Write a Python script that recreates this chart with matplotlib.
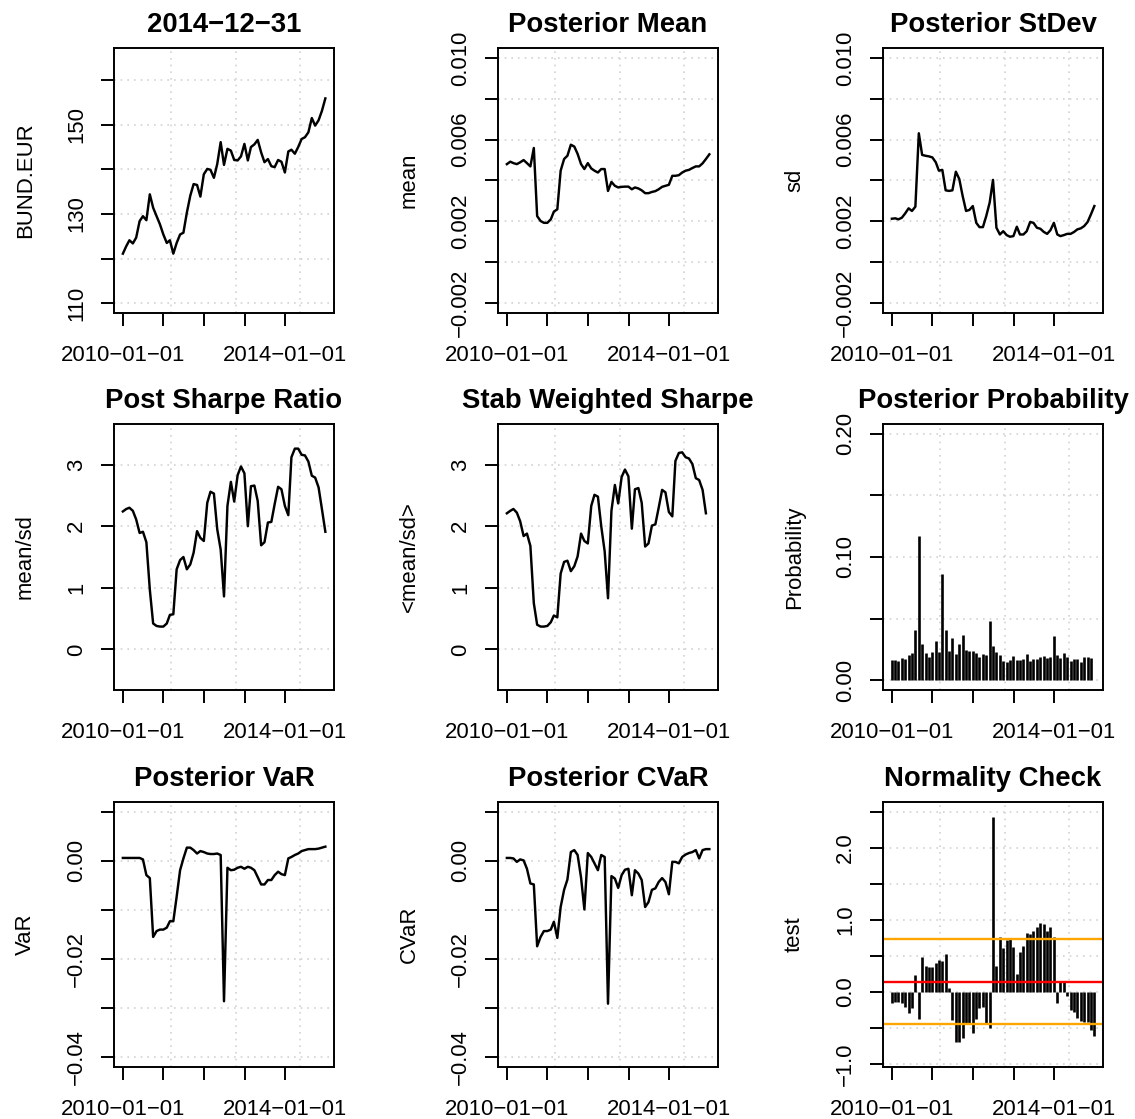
import matplotlib
matplotlib.use("Agg")
import matplotlib.pyplot as plt
import pandas as pd

plt.rcParams['font.family'] = ['Liberation Sans', 'DejaVu Sans']

M = "\u2212"

# monthly index, 2009-12-31 .. 2014-12-31
dates = pd.date_range("2010-01-01", periods=61, freq="MS") - pd.Timedelta(days=1)

bund = [121.1, 122.8, 124.1, 123.4, 124.7, 128.4, 129.5, 128.6, 134.4, 131.4,
        129.5, 127.7, 125.4, 123.5, 124.1, 121.1, 123.5, 125.4, 125.8, 130.3,
        134.1, 136.7, 136.5, 133.9, 138.9, 140.1, 139.9, 138.1, 141.2, 146.1,
        141.0, 144.6, 144.2, 142.1, 142.0, 142.9, 145.7, 142.0, 145.0, 145.6,
        146.6, 143.8, 141.6, 142.3, 140.7, 140.5, 142.1, 141.7, 139.3, 144.0,
        144.4, 143.5, 145.0, 146.8, 147.2, 148.3, 151.5, 149.8, 151.0, 153.1,
        155.9]

post_mean = [0.00480, 0.00492, 0.00485, 0.00480, 0.00489, 0.00500, 0.00485, 0.00469, 0.00559, 0.00226,
             0.00202, 0.00193, 0.00193, 0.00210, 0.00248, 0.00259, 0.00448, 0.00505, 0.00521, 0.00575,
             0.00566, 0.00530, 0.00480, 0.00456, 0.00485, 0.00459, 0.00448, 0.00439, 0.00456, 0.00456,
             0.00349, 0.00393, 0.00374, 0.00366, 0.00369, 0.00370, 0.00370, 0.00357, 0.00366, 0.00361,
             0.00352, 0.00338, 0.00338, 0.00344, 0.00348, 0.00357, 0.00369, 0.00374, 0.00379, 0.00423,
             0.00423, 0.00426, 0.00439, 0.00448, 0.00452, 0.00461, 0.00469, 0.00469, 0.00484, 0.00505,
             0.00528]

post_sd = [0.00213, 0.00215, 0.00210, 0.00218, 0.00239, 0.00264, 0.00251, 0.00272, 0.00631, 0.00525,
           0.00521, 0.00518, 0.00513, 0.00489, 0.00448, 0.00452, 0.00352, 0.00349, 0.00352, 0.00443,
           0.00407, 0.00325, 0.00251, 0.00256, 0.00275, 0.00193, 0.00172, 0.00172, 0.00226, 0.00292,
           0.00403, 0.00169, 0.00136, 0.00152, 0.00133, 0.00125, 0.00128, 0.00174, 0.00136, 0.00136,
           0.00152, 0.00197, 0.00193, 0.00169, 0.00164, 0.00149, 0.00139, 0.00157, 0.00193, 0.00136,
           0.00128, 0.00133, 0.00139, 0.00139, 0.00148, 0.00161, 0.00166, 0.00177, 0.00197, 0.00234,
           0.00275]

sharpe = [2.24, 2.28, 2.30, 2.25, 2.11, 1.89, 1.91, 1.74, 0.97, 0.42,
          0.38, 0.37, 0.37, 0.42, 0.56, 0.57, 1.30, 1.45, 1.50, 1.30,
          1.38, 1.57, 1.92, 1.81, 1.76, 2.38, 2.56, 2.53, 1.95, 1.62,
          0.86, 2.33, 2.72, 2.40, 2.83, 2.97, 2.86, 2.00, 2.65, 2.66,
          2.41, 1.69, 1.74, 2.06, 2.07, 2.36, 2.64, 2.60, 2.33, 2.18,
          3.12, 3.26, 3.26, 3.16, 3.15, 3.05, 2.82, 2.79, 2.63, 2.28,
          1.91]

stab_sharpe = [2.21, 2.25, 2.28, 2.22, 2.08, 1.84, 1.88, 1.68, 0.75, 0.40,
               0.37, 0.37, 0.38, 0.44, 0.55, 0.52, 1.23, 1.42, 1.44, 1.27,
               1.35, 1.51, 1.88, 1.76, 1.72, 2.33, 2.51, 2.48, 2.00, 1.59,
               0.83, 2.25, 2.67, 2.37, 2.80, 2.92, 2.81, 1.96, 2.60, 2.62,
               2.38, 1.67, 1.72, 2.01, 2.03, 2.30, 2.59, 2.55, 2.23, 2.16,
               3.06, 3.19, 3.20, 3.12, 3.10, 3.01, 2.78, 2.75, 2.59, 2.21]

post_prob = [0.0164, 0.0164, 0.0156, 0.0183, 0.0172, 0.0202, 0.0224, 0.0407, 0.1167, 0.0292,
             0.0219, 0.0189, 0.0230, 0.0317, 0.0230, 0.0861, 0.0404, 0.0238, 0.0344, 0.0216,
             0.0295, 0.0363, 0.0246, 0.0238, 0.0240, 0.0219, 0.0189, 0.0216, 0.0205, 0.0478,
             0.0276, 0.0232, 0.0202, 0.0153, 0.0148, 0.0161, 0.0199, 0.0164, 0.0164, 0.0175,
             0.0213, 0.0153, 0.0169, 0.0169, 0.0189, 0.0197, 0.0180, 0.0189, 0.0355, 0.0202,
             0.0183, 0.0219, 0.0189, 0.0153, 0.0175, 0.0169, 0.0145, 0.0189, 0.0191, 0.0178]

post_var = [0.0006, 0.0006, 0.0006, 0.0006, 0.0006, 0.0006, 0.0003, -0.0029, -0.0035, -0.0155,
            -0.0143, -0.0140, -0.0140, -0.0136, -0.0123, -0.0123, -0.0073, -0.0019, 0.0005, 0.0027,
            0.0027, 0.0022, 0.0015, 0.0020, 0.0018, 0.0015, 0.0014, 0.0014, 0.0015, 0.0012,
            -0.0286, -0.0014, -0.0019, -0.0018, -0.0014, -0.0012, -0.0016, -0.0012, -0.0014, -0.0019,
            -0.0033, -0.0048, -0.0048, -0.0039, -0.0039, -0.0029, -0.0022, -0.0027, -0.0029, 0.0005,
            0.0008, 0.0012, 0.0015, 0.0020, 0.0022, 0.0024, 0.0024, 0.0024, 0.0025, 0.0027,
            0.0029]

post_cvar = [0.0006, 0.0006, 0.0005, -0.0002, 0.0003, 0.0001, -0.0016, -0.0046, -0.0048, -0.0174,
             -0.0155, -0.0143, -0.0143, -0.0140, -0.0124, -0.0157, -0.0094, -0.0059, -0.0038, 0.0018,
             0.0022, 0.0012, -0.0034, -0.0099, 0.0016, 0.0008, -0.0005, -0.0019, 0.0012, 0.0008,
             -0.0291, -0.0031, -0.0036, -0.0055, -0.0029, -0.0018, -0.0016, -0.0070, -0.0019, -0.0026,
             -0.0039, -0.0094, -0.0084, -0.0059, -0.0056, -0.0043, -0.0035, -0.0043, -0.0068, -0.0002,
             -0.0002, -0.0005, 0.0008, 0.0013, 0.0016, 0.0018, 0.0022, 0.0005, 0.0022, 0.0024,
             0.0024]

norm_test = [-0.148, -0.139, -0.139, -0.157, -0.204, -0.287, -0.218, 0.236, -0.380, 0.481,
             0.361, 0.352, 0.352, 0.407, 0.444, 0.435, 0.528, 0.051, -0.389, -0.699,
             -0.699, -0.644, -0.435, -0.435, -0.565, -0.380, -0.227, -0.204, -0.435, -0.495,
             2.43, 0.361, 0.769, 0.606, 0.722, 0.745, 0.630, 0.250, 0.560, 0.644,
             0.824, 0.806, 0.852, 0.907, 0.954, 0.944, 0.852, 0.907, 0.759, -0.148,
             0.157, 0.144, -0.056, -0.250, -0.273, -0.366, -0.403, -0.412, -0.412, -0.528,
             -0.611]
norm_mean = 0.144
norm_band = [-0.444, 0.731]

x_ticks = pd.to_datetime(["2010-01-01", "2011-01-01", "2012-01-01", "2013-01-01", "2014-01-01"])
x_labels = ["2010" + M + "01" + M + "01", "", "", "", "2014" + M + "01" + M + "01"]
# R grid() on POSIXct axis: pretty seconds
x_grid = pd.to_datetime([1.30e9, 1.35e9, 1.40e9], unit="s")

W, H = 1135, 1119
fig = plt.figure(figsize=(W / 100, H / 100), dpi=100)

cols = [114, 498, 883]
rows = [(48, 313), (424, 690), (802, 1067)]
AW = 220

GRID = dict(color="#D3D3D3", lw=1.2, ls=(0, (1, 3)), zorder=0)
FS = 15.9


def make_ax(r, c):
    top, bot = rows[r]
    ax = fig.add_axes([cols[c] / W, 1 - bot / H, AW / W, (bot - top) / H])
    return ax


def style(ax, title, ylab, ylim, yticks, ylabels):
    ax.set_xlim(dates[0] - pd.Timedelta(days=80), dates[-1] + pd.Timedelta(days=78))
    ax.set_ylim(*ylim)
    for g in x_grid:
        ax.axvline(g, **GRID)
    for t in yticks:
        ax.axhline(t, **GRID)
    ax.set_xticks(x_ticks)
    ax.set_xticklabels(x_labels, fontsize=FS)
    ax.set_yticks(yticks)
    ax.set_yticklabels(ylabels, fontsize=FS, rotation=90, va="center")
    ax.tick_params(axis="both", direction="out", length=9.5, width=1.4, color="black")
    ax.tick_params(axis="x", pad=13.5)
    ax.tick_params(axis="y", pad=10)
    for s in ax.spines.values():
        s.set_linewidth(1.4)
    ax.set_title(title, fontsize=19.8, fontweight="bold", pad=11.5)
    ax.text(-83 / AW, 0.5, ylab, transform=ax.transAxes, rotation=90,
            rotation_mode="anchor", ha="center", va="baseline", fontsize=FS)


LW = 1.75

ax = make_ax(0, 0)
ax.plot(dates, bund, color="black", lw=LW)
style(ax, "2014" + M + "12" + M + "31", "BUND.EUR", (107.8, 167.2),
      [110, 120, 130, 140, 150, 160], ["110", "", "130", "", "150", ""])

ax = make_ax(0, 1)
ax.plot(dates, post_mean, color="black", lw=LW)
style(ax, "Posterior Mean", "mean", (-0.00248, 0.01048),
      [-0.002, 0.0, 0.002, 0.004, 0.006, 0.008, 0.010],
      [M + "0.002", "", "0.002", "", "0.006", "", "0.010"])

ax = make_ax(0, 2)
ax.plot(dates, post_sd, color="black", lw=LW)
style(ax, "Posterior StDev", "sd", (-0.00248, 0.01048),
      [-0.002, 0.0, 0.002, 0.004, 0.006, 0.008, 0.010],
      [M + "0.002", "", "0.002", "", "0.006", "", "0.010"])

ax = make_ax(1, 0)
ax.plot(dates, sharpe, color="black", lw=LW)
style(ax, "Post Sharpe Ratio", "mean/sd", (-0.66, 3.66),
      [0, 1, 2, 3], ["0", "1", "2", "3"])

ax = make_ax(1, 1)
ax.plot(dates[:60], stab_sharpe, color="black", lw=LW)
style(ax, "Stab Weighted Sharpe", "<mean/sd>", (-0.66, 3.66),
      [0, 1, 2, 3], ["0", "1", "2", "3"])

ax = make_ax(1, 2)
ax.vlines(dates[:60], 0, post_prob, color="black", lw=1.9)
style(ax, "Posterior Probability", "Probability", (-0.008, 0.208),
      [0.0, 0.05, 0.10, 0.15, 0.20], ["0.00", "", "0.10", "", "0.20"])

ax = make_ax(2, 0)
ax.plot(dates, post_var, color="black", lw=LW)
style(ax, "Posterior VaR", "VaR", (-0.042, 0.012),
      [-0.04, -0.03, -0.02, -0.01, 0.0, 0.01],
      [M + "0.04", "", M + "0.02", "", "0.00", ""])

ax = make_ax(2, 1)
ax.plot(dates, post_cvar, color="black", lw=LW)
style(ax, "Posterior CVaR", "CVaR", (-0.042, 0.012),
      [-0.04, -0.03, -0.02, -0.01, 0.0, 0.01],
      [M + "0.04", "", M + "0.02", "", "0.00", ""])

ax = make_ax(2, 2)
ax.vlines(dates, 0, norm_test, color="black", lw=1.9)
ax.axhline(norm_mean, color="red", lw=1.7)
for b in norm_band:
    ax.axhline(b, color="orange", lw=1.7)
style(ax, "Normality Check", "test", (-1.042, 2.639),
      [-1.0, -0.5, 0.0, 0.5, 1.0, 1.5, 2.0, 2.5],
      [M + "1.0", "", "0.0", "", "1.0", "", "2.0", ""])

fig.savefig("out.png", dpi=100, facecolor="white")
